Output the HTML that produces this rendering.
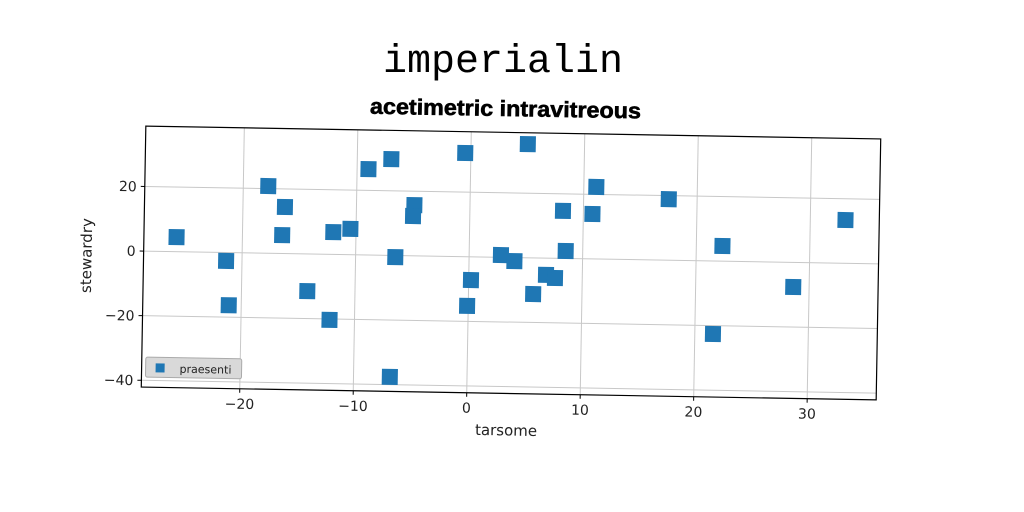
<!DOCTYPE html>
<html><head><meta charset="utf-8"><style>
html,body{margin:0;padding:0;background:#fff;}
svg{display:block;}
text{font-family:"DejaVu Sans","Liberation Sans",sans-serif;}
</style></head><body>
<svg id="chart" width="1024" height="512" viewBox="0 0 1024 512" xmlns="http://www.w3.org/2000/svg">
<rect width="1024" height="512" fill="#fff"/>
<text x="503" y="72" text-anchor="middle" font-size="40" style="font-family:'Liberation Mono',monospace" fill="#000">imperialin</text>
<text x="370" y="116" font-size="22" font-weight="bold" textLength="271" lengthAdjust="spacingAndGlyphs" transform="rotate(1 505 108)" fill="#000" stroke="#000" stroke-width="0.6" style="font-family:'Liberation Sans',sans-serif">acetimetric intravitreous</text>
<g id="plot" transform="rotate(1 511 263)"></g>
</svg>
<script>
const xVals=[-25.8,-21.4,-21.1,-17.8,-16.3,-16.5,-14.2,-12.2,-12.0,-10.5,-9.0,-7.0,-6.5,-4.9,-5.0,-6.8,-0.5,0.2,-0.1,5.0,2.8,4.0,5.7,6.8,7.6,8.2,8.5,10.8,11.1,17.5,22.3,21.6,28.6,33.1];
const yVals=[4.5,-2.6,-16.3,20.8,14.4,5.7,-11.5,-20.3,6.9,8.0,26.6,29.8,-0.5,15.7,12.3,-37.6,32.1,-7.2,-15.2,35.2,0.7,-1.1,-11.2,-5.2,-6.1,14.7,2.3,13.9,22.3,18.9,4.7,-22.6,-7.6,13.4];
const xTicks=[-20,-10,0,10,20,30];
const yTicks=[-40,-20,0,20];
const seriesName="praesenti";
const NS="http://www.w3.org/2000/svg";
const L=143.5,R=878.5,T=132.5,B=393.5;
function sx(v){return 469+v*11.35;}
function sy(v){return 257.5-v*3.23;}
const g=document.getElementById('plot');
function mk(tag,attrs){const e=document.createElementNS(NS,tag);for(const k in attrs)e.setAttribute(k,attrs[k]);g.appendChild(e);return e;}
xTicks.forEach(t=>{
  const l=mk('line',{x1:sx(t),x2:sx(t),y1:T,y2:B,stroke:'#c8c8c8','stroke-width':1});
  
  
  const k=mk('line',{x1:sx(t),x2:sx(t),y1:B,y2:B+4,stroke:'#000'});
  
  
  const tx=mk('text',{x:sx(t),y:B+20,'text-anchor':'middle','font-size':14,fill:'#222'});
  tx.textContent=(t<0?'\u2212'+(-t):t);
  
  
});
yTicks.forEach(t=>{
  const l=mk('line',{x1:L,x2:R,y1:sy(t),y2:sy(t),stroke:'#c8c8c8','stroke-width':1});
  
  
  const k=mk('line',{x1:L-4,x2:L,y1:sy(t),y2:sy(t),stroke:'#000'});
  
  
  const tx=mk('text',{x:L-8,y:sy(t)+5,'text-anchor':'end','font-size':14,fill:'#222'});
  tx.textContent=(t<0?'\u2212'+(-t):t);
  
  
});
const frame=mk('rect',{x:L,y:T,width:R-L,height:B-T,fill:'none',stroke:'#000','stroke-width':1.2});


xVals.forEach((v,i)=>{
  const p=mk('rect',{x:sx(v)-8,y:sy(yVals[i])-8,width:16,height:16,fill:'#1f77b4'});
  
  
});
const xl=mk('text',{x:509,y:B+42,'text-anchor':'middle','font-size':15,fill:'#222'});
xl.textContent='tarsome';


const yl=mk('text',{x:0,y:0,'text-anchor':'middle','font-size':15,fill:'#222',transform:`translate(${L-52},${(T+B)/2}) rotate(-90)`});
yl.textContent='stewardry';


const lg=mk('rect',{x:L+4,y:B-30,width:96,height:20,fill:'#d9d9d9',stroke:'#aaa',rx:2});


const lm=mk('rect',{x:L+14,y:B-24,width:9,height:9,fill:'#1f77b4'});


const lt=mk('text',{x:L+38,y:B-15,'font-size':11,fill:'#222'});
lt.textContent=seriesName;


</script>
</body></html>
